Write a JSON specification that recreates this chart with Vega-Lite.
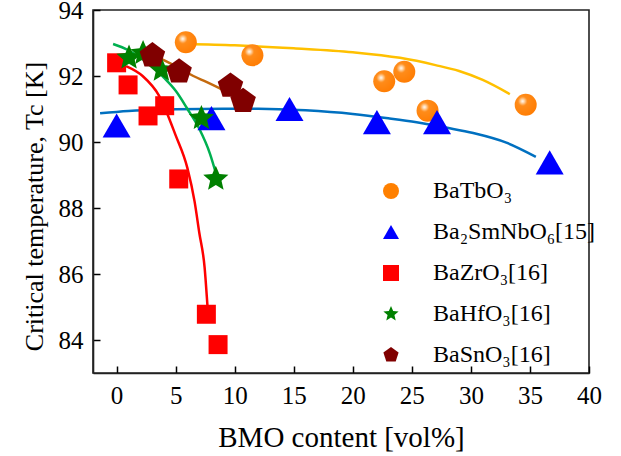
{
  "$schema": "https://vega.github.io/schema/vega-lite/v6.json",
  "width": 496,
  "height": 363,
  "autosize": "none",
  "padding": {"left": 93, "top": 10, "right": 32, "bottom": 83},
  "background": "white",
  "config": {
    "font": "Liberation Serif",
    "view": {"stroke": "#222222", "strokeWidth": 1.6},
    "axis": {
      "grid": false,
      "domainColor": "#222222",
      "domainWidth": 1.6,
      "tickColor": "black",
      "tickWidth": 1.5,
      "tickSize": -7,
      "labelFont": "Liberation Serif",
      "labelFontSize": 25,
      "labelColor": "black",
      "titleFont": "Liberation Serif",
      "titleFontWeight": "normal",
      "titleColor": "black"
    },
    "legend": {
      "orient": "none",
      "legendX": 286,
      "legendY": 169,
      "padding": 0,
      "symbolSize": 256,
      "symbolStrokeWidth": 0,
      "labelFont": "Liberation Serif",
      "labelFontSize": 24,
      "labelColor": "black",
      "labelOffset": 30,
      "rowPadding": 17,
      "labelLimit": 400
    }
  },
  "datasets": {
    "points": [
      {"series": "BaTbO₃", "x": 5.86, "y": 93.02},
      {"series": "BaTbO₃", "x": 11.5, "y": 92.63},
      {"series": "BaTbO₃", "x": 22.66, "y": 91.84},
      {"series": "BaTbO₃", "x": 24.36, "y": 92.13},
      {"series": "BaTbO₃", "x": 26.33, "y": 90.95},
      {"series": "BaTbO₃", "x": 34.64, "y": 91.13},
      {"series": "Ba₂SmNbO₆[15]", "x": 0.0, "y": 90.5},
      {"series": "Ba₂SmNbO₆[15]", "x": 8.03, "y": 90.72},
      {"series": "Ba₂SmNbO₆[15]", "x": 14.64, "y": 91.0},
      {"series": "Ba₂SmNbO₆[15]", "x": 22.04, "y": 90.6},
      {"series": "Ba₂SmNbO₆[15]", "x": 27.13, "y": 90.6},
      {"series": "Ba₂SmNbO₆[15]", "x": 36.67, "y": 89.38},
      {"series": "BaZrO₃[16]", "x": 0.0, "y": 92.4},
      {"series": "BaZrO₃[16]", "x": 0.97, "y": 91.73},
      {"series": "BaZrO₃[16]", "x": 2.66, "y": 90.79},
      {"series": "BaZrO₃[16]", "x": 4.07, "y": 91.1},
      {"series": "BaZrO₃[16]", "x": 5.26, "y": 88.88},
      {"series": "BaZrO₃[16]", "x": 7.6, "y": 84.78},
      {"series": "BaZrO₃[16]", "x": 8.59, "y": 83.86},
      {"series": "BaHfO₃[16]", "x": 2.24, "y": 92.69},
      {"series": "BaHfO₃[16]", "x": 1.05, "y": 92.55},
      {"series": "BaHfO₃[16]", "x": 3.79, "y": 92.18},
      {"series": "BaHfO₃[16]", "x": 7.18, "y": 90.72},
      {"series": "BaHfO₃[16]", "x": 8.4, "y": 88.88},
      {"series": "BaSnO₃[16]", "x": 3.03, "y": 92.62},
      {"series": "BaSnO₃[16]", "x": 5.29, "y": 92.13},
      {"series": "BaSnO₃[16]", "x": 9.64, "y": 91.7},
      {"series": "BaSnO₃[16]", "x": 10.71, "y": 91.24}
    ],
    "curves": [
      {"fit": "BaTbO3", "x": 5.9, "y": 92.97},
      {"fit": "BaTbO3", "x": 10, "y": 92.93},
      {"fit": "BaTbO3", "x": 15, "y": 92.84},
      {"fit": "BaTbO3", "x": 20, "y": 92.72},
      {"fit": "BaTbO3", "x": 24, "y": 92.55},
      {"fit": "BaTbO3", "x": 27, "y": 92.33},
      {"fit": "BaTbO3", "x": 29, "y": 92.15},
      {"fit": "BaTbO3", "x": 31, "y": 91.88},
      {"fit": "BaTbO3", "x": 33.3, "y": 91.45},
      {"fit": "Ba2SmNbO6", "x": -1.4, "y": 90.87},
      {"fit": "Ba2SmNbO6", "x": 1, "y": 90.94},
      {"fit": "Ba2SmNbO6", "x": 5, "y": 90.99},
      {"fit": "Ba2SmNbO6", "x": 9, "y": 91.01},
      {"fit": "Ba2SmNbO6", "x": 12, "y": 91.01},
      {"fit": "Ba2SmNbO6", "x": 16, "y": 90.96},
      {"fit": "Ba2SmNbO6", "x": 20, "y": 90.85},
      {"fit": "Ba2SmNbO6", "x": 23, "y": 90.72},
      {"fit": "Ba2SmNbO6", "x": 25.4, "y": 90.6},
      {"fit": "Ba2SmNbO6", "x": 28, "y": 90.43},
      {"fit": "Ba2SmNbO6", "x": 30.2, "y": 90.27},
      {"fit": "Ba2SmNbO6", "x": 33, "y": 89.98},
      {"fit": "Ba2SmNbO6", "x": 35.5, "y": 89.55},
      {"fit": "BaZrO3", "x": 0.8, "y": 92.3},
      {"fit": "BaZrO3", "x": 2.2, "y": 92.0},
      {"fit": "BaZrO3", "x": 3.6, "y": 91.4},
      {"fit": "BaZrO3", "x": 5.0, "y": 90.2},
      {"fit": "BaZrO3", "x": 6.0, "y": 89.2},
      {"fit": "BaZrO3", "x": 6.6, "y": 88.2},
      {"fit": "BaZrO3", "x": 7.0, "y": 87.25},
      {"fit": "BaZrO3", "x": 7.45, "y": 86.2},
      {"fit": "BaZrO3", "x": 7.7, "y": 85.0},
      {"fit": "BaZrO3", "x": 7.75, "y": 84.75},
      {"fit": "BaHfO3", "x": -0.3, "y": 92.97},
      {"fit": "BaHfO3", "x": 1, "y": 92.78},
      {"fit": "BaHfO3", "x": 2, "y": 92.55},
      {"fit": "BaHfO3", "x": 3, "y": 92.3},
      {"fit": "BaHfO3", "x": 4, "y": 91.95},
      {"fit": "BaHfO3", "x": 5, "y": 91.55},
      {"fit": "BaHfO3", "x": 6, "y": 91.0},
      {"fit": "BaHfO3", "x": 7, "y": 90.4},
      {"fit": "BaHfO3", "x": 7.9, "y": 89.65},
      {"fit": "BaHfO3", "x": 8.45, "y": 89.0},
      {"fit": "BaSnO3", "x": 3.0, "y": 92.65},
      {"fit": "BaSnO3", "x": 4.0, "y": 92.48},
      {"fit": "BaSnO3", "x": 5.3, "y": 92.24},
      {"fit": "BaSnO3", "x": 6.5, "y": 92.0},
      {"fit": "BaSnO3", "x": 7.6, "y": 91.82},
      {"fit": "BaSnO3", "x": 8.7, "y": 91.63},
      {"fit": "BaSnO3", "x": 9.7, "y": 91.45},
      {"fit": "BaSnO3", "x": 10.7, "y": 91.25}
    ]
  },
  "layer": [
    {
      "data": {"name": "curves"},
      "mark": {"type": "line", "interpolate": "monotone", "strokeWidth": 2.5},
      "encoding": {
        "x": {
          "field": "x", "type": "quantitative",
          "scale": {"domain": [-2, 40], "nice": false, "zero": false},
          "axis": {
            "orient": "bottom",
            "title": "BMO content [vol%]",
            "titleFontSize": 29,
            "titleBaseline": "alphabetic",
            "titleY": 73,
            "values": [0, 2.5, 5, 7.5, 10, 12.5, 15, 17.5, 20, 22.5, 25, 27.5, 30, 32.5, 35, 37.5, 40],
            "labelExpr": "datum.value % 5 === 0 ? datum.label : ''",
            "labelPadding": 17,
            "labelFlush": false
          }
        },
        "y": {
          "field": "y", "type": "quantitative",
          "scale": {"domain": [83, 94], "nice": false, "zero": false},
          "axis": {
            "orient": "left",
            "title": "Critical temperature, Tc [K]",
            "titleFontSize": 26,
            "titleBaseline": "bottom",
            "titleX": -46,
            "titleY": 196,
            "values": [84, 85, 86, 87, 88, 89, 90, 91, 92, 93, 94],
            "labelExpr": "datum.value % 2 === 0 ? datum.label : ''",
            "labelPadding": 17,
            "labelFlush": false
          }
        },
        "detail": {"field": "fit", "type": "nominal"},
        "stroke": {
          "field": "fit", "type": "nominal",
          "scale": {
            "domain": ["BaTbO3", "Ba2SmNbO6", "BaZrO3", "BaHfO3", "BaSnO3"],
            "range": ["#ffc000", "#0070c0", "#ff0000", "#00b050", "#c46a0e"]
          },
          "legend": null
        }
      }
    },
    {
      "data": {"name": "points"},
      "transform": [{"filter": "datum.series === 'BaTbO₃'"}],
      "mark": {
        "type": "point", "filled": true, "opacity": 1, "size": 484, "strokeWidth": 0,
        "fill": {
          "gradient": "radial",
          "x1": 0.36, "y1": 0.34, "r1": 0,
          "x2": 0.36, "y2": 0.34, "r2": 0.75,
          "stops": [
            {"offset": 0, "color": "#ffffff"},
            {"offset": 0.1, "color": "#ffd9b0"},
            {"offset": 0.28, "color": "#ff8c1a"},
            {"offset": 1, "color": "#ff7b00"}
          ]
        }
      },
      "encoding": {
        "x": {"field": "x", "type": "quantitative"},
        "y": {"field": "y", "type": "quantitative"},
        "shape": {
          "field": "series", "type": "nominal",
          "scale": {
            "domain": ["BaTbO₃", "Ba₂SmNbO₆[15]", "BaZrO₃[16]", "BaHfO₃[16]", "BaSnO₃[16]"],
            "range": ["circle", "triangle-up", "square",
              "M0,-1L0.27,-0.37L0.951,-0.309L0.43,0.14L0.588,0.809L0,0.45L-0.588,0.809L-0.43,0.14L-0.951,-0.309L-0.27,-0.37Z",
              "M0,-1L0.951,-0.309L0.588,0.809L-0.588,0.809L-0.951,-0.309Z"]
          },
          "legend": {"title": null}
        }
      }
    },
    {
      "data": {"name": "points"},
      "transform": [{"filter": "datum.series !== 'BaTbO₃'"}],
      "mark": {"type": "point", "filled": true, "opacity": 1, "strokeWidth": 0},
      "encoding": {
        "x": {"field": "x", "type": "quantitative"},
        "y": {"field": "y", "type": "quantitative"},
        "color": {
          "field": "series", "type": "nominal",
          "scale": {
            "domain": ["BaTbO₃", "Ba₂SmNbO₆[15]", "BaZrO₃[16]", "BaHfO₃[16]", "BaSnO₃[16]"],
            "range": ["#ff8000", "#0000ff", "#ff0000", "#008000", "#800000"]
          },
          "legend": {"title": null}
        },
        "shape": {"field": "series", "type": "nominal", "legend": {"title": null}},
        "size": {
          "condition": [
            {"test": "datum.series === 'Ba₂SmNbO₆[15]'", "value": 784},
            {"test": "datum.series === 'BaZrO₃[16]'", "value": 361},
            {"test": "datum.series === 'BaHfO₃[16]'", "value": 700},
            {"test": "datum.series === 'BaSnO₃[16]'", "value": 720}
          ],
          "value": 484
        }
      }
    }
  ]
}
